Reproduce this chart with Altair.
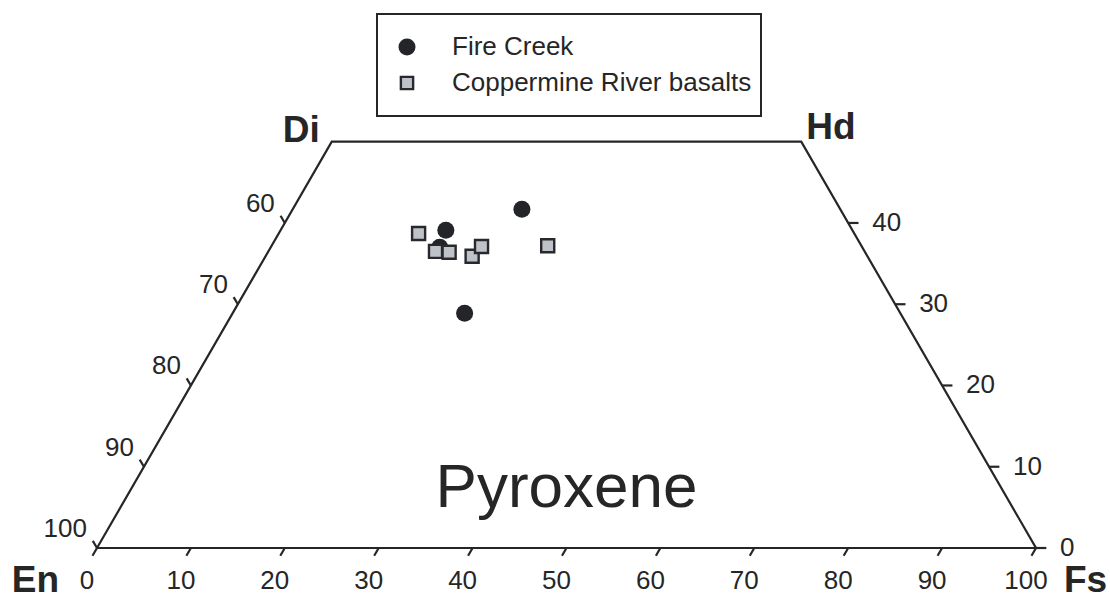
import altair as alt
import pandas as pd

# Pyroxene compositions, mol % Wo and Fs (En is the remainder)
fire_creek_wo = [41.7, 39.1, 37.0, 28.9]
fire_creek_fs = [24.4, 17.6, 18.0, 24.7]
coppermine_wo = [38.7, 36.5, 36.4, 35.9, 37.1, 37.2]
coppermine_fs = [14.9, 17.8, 19.3, 22.0, 22.4, 29.4]

# Axis ticks
base_ticks = [0, 10, 20, 30, 40, 50, 60, 70, 80, 90, 100]
side_ticks_wo = [0, 10, 20, 30, 40]
left_labels = ["100", "90", "80", "70", "60"]
right_labels = ["0", "10", "20", "30", "40"]

FONT = "Liberation Sans"
INK = "#262626"


def to_xy(wo, fs):
    # ternary -> cartesian: horizontal = Fs + Wo/2, vertical = Wo
    return fs + wo / 2.0, wo


def points_frame(wo_list, fs_list):
    rows = []
    for wo, fs in zip(wo_list, fs_list):
        h, v = to_xy(wo, fs)
        rows.append({"h": h, "v": v, "Wo": wo, "Fs": fs, "En": round(100 - wo - fs, 1)})
    return pd.DataFrame(rows)


fc = points_frame(fire_creek_wo, fire_creek_fs)
cr = points_frame(coppermine_wo, coppermine_fs)

# quadrilateral outline En - Fs - Hd - Di - En
outline = pd.DataFrame({
    "h": [0, 100, 75, 25, 0],
    "v": [0, 0, 50, 50, 0],
    "order": [0, 1, 2, 3, 4],
})

# tick segments
tick_rows = []
for t in base_ticks:
    tick_rows.append({"h": t, "v": 0, "h2": t - 0.48, "v2": -0.96})
for w in side_ticks_wo:
    lh, lv = to_xy(w, 0)
    tick_rows.append({"h": lh, "v": lv, "h2": lh - 0.45, "v2": lv + 0.88})
    rh, rv = to_xy(w, 100 - w)
    tick_rows.append({"h": rh, "v": rv, "h2": rh + 1.1, "v2": rv})
ticks = pd.DataFrame(tick_rows)

base_lab = pd.DataFrame({"h": base_ticks, "v": [0] * len(base_ticks),
                         "t": [str(t) for t in base_ticks]})
left_lab = pd.DataFrame({"h": [w / 2 for w in side_ticks_wo], "v": side_ticks_wo,
                         "t": left_labels})
right_lab = pd.DataFrame({"h": [100 - w / 2 for w in side_ticks_wo], "v": side_ticks_wo,
                          "t": right_labels})

xs = alt.Scale(domain=[-10.330, 107.881], nice=False, zero=False)
ys = alt.Scale(domain=[-6.768, 67.438], nice=False, zero=False)
X = alt.X("h:Q", scale=xs, axis=None)
Y = alt.Y("v:Q", scale=ys, axis=None)

frame = alt.Chart(outline).mark_line(color=INK, strokeWidth=2.2).encode(
    x=X, y=Y, order="order:Q")

tick_layer = alt.Chart(ticks).mark_rule(color=INK, strokeWidth=2.2).encode(
    x=X, y=Y, x2="h2:Q", y2="v2:Q")

base_text = alt.Chart(base_lab).mark_text(
    font=FONT, fontSize=26, color=INK, align="center", baseline="middle", dx=-10, dy=33
).encode(x=X, y=Y, text="t:N")

left_text = alt.Chart(left_lab).mark_text(
    font=FONT, fontSize=26, color=INK, align="right", baseline="middle", dx=-10, dy=-19
).encode(x=X, y=Y, text="t:N")

right_text = alt.Chart(right_lab).mark_text(
    font=FONT, fontSize=26, color=INK, align="left", baseline="middle", dx=24, dy=0
).encode(x=X, y=Y, text="t:N")

corners = pd.DataFrame({
    "h": [0, 100, 25, 75],
    "v": [0, 0, 50, 50],
    "t": ["En", "Fs", "Di", "Hd"],
})


def corner(name, align, dx, dy):
    return alt.Chart(corners[corners.t == name]).mark_text(
        font=FONT, fontSize=37, fontWeight="bold", color=INK,
        align=align, baseline="alphabetic", dx=dx, dy=dy
    ).encode(x=X, y=Y, text="t:N")


corner_layers = [
    corner("En", "right", -38, 44),
    corner("Fs", "left", 28, 44),
    corner("Di", "right", -12, 0),
    corner("Hd", "left", 5, -3),
]

title_df = pd.DataFrame({"h": [50.0], "v": [5.0], "t": ["Pyroxene"]})
title_text = alt.Chart(title_df).mark_text(
    font=FONT, fontSize=62, color=INK, align="center", baseline="alphabetic"
).encode(x=X, y=Y, text="t:N")

fc_layer = alt.Chart(fc).mark_point(
    shape="circle", filled=True, size=290, color="#232528", opacity=1
).encode(x=X, y=Y, tooltip=["En:Q", "Wo:Q", "Fs:Q"])

cr_layer = alt.Chart(cr).mark_point(
    shape="square", filled=True, size=170, fill="#BFC2C9", stroke="#28292D",
    strokeWidth=2.4, opacity=1
).encode(x=X, y=Y, tooltip=["En:Q", "Wo:Q", "Fs:Q"])

# legend box
one = pd.DataFrame({"k": [0]})
legend_box = alt.Chart(one).mark_rect(
    fill="white", stroke=INK, strokeWidth=2
).encode(x=alt.value(377), x2=alt.value(761), y=alt.value(14), y2=alt.value(116))

legend_circle = alt.Chart(one).mark_point(
    shape="circle", filled=True, size=290, color="#232528", opacity=1
).encode(x=alt.value(407), y=alt.value(47))

legend_square = alt.Chart(one).mark_point(
    shape="square", filled=True, size=150, fill="#BFC2C9", stroke="#28292D",
    strokeWidth=2.4, opacity=1
).encode(x=alt.value(407), y=alt.value(83))

legend_labels = pd.DataFrame({"t": ["Fire Creek", "Coppermine River basalts"],
                              "yy": [47, 83]})
legend_text = alt.Chart(legend_labels).mark_text(
    font=FONT, fontSize=26, color=INK, align="left", baseline="middle"
).encode(x=alt.value(452), y=alt.Y("yy:Q", scale=None), text="t:N")

chart = alt.layer(
    frame, tick_layer, base_text, left_text, right_text, *corner_layers, title_text,
    fc_layer, cr_layer, legend_box, legend_circle, legend_square, legend_text
).properties(
    width=1110, height=603, padding=0,
    autosize=alt.AutoSizeParams(type="none"),
    background="white",
).configure_view(stroke=None)

chart.save("out.html", embed_options={"renderer": "svg", "actions": False})
